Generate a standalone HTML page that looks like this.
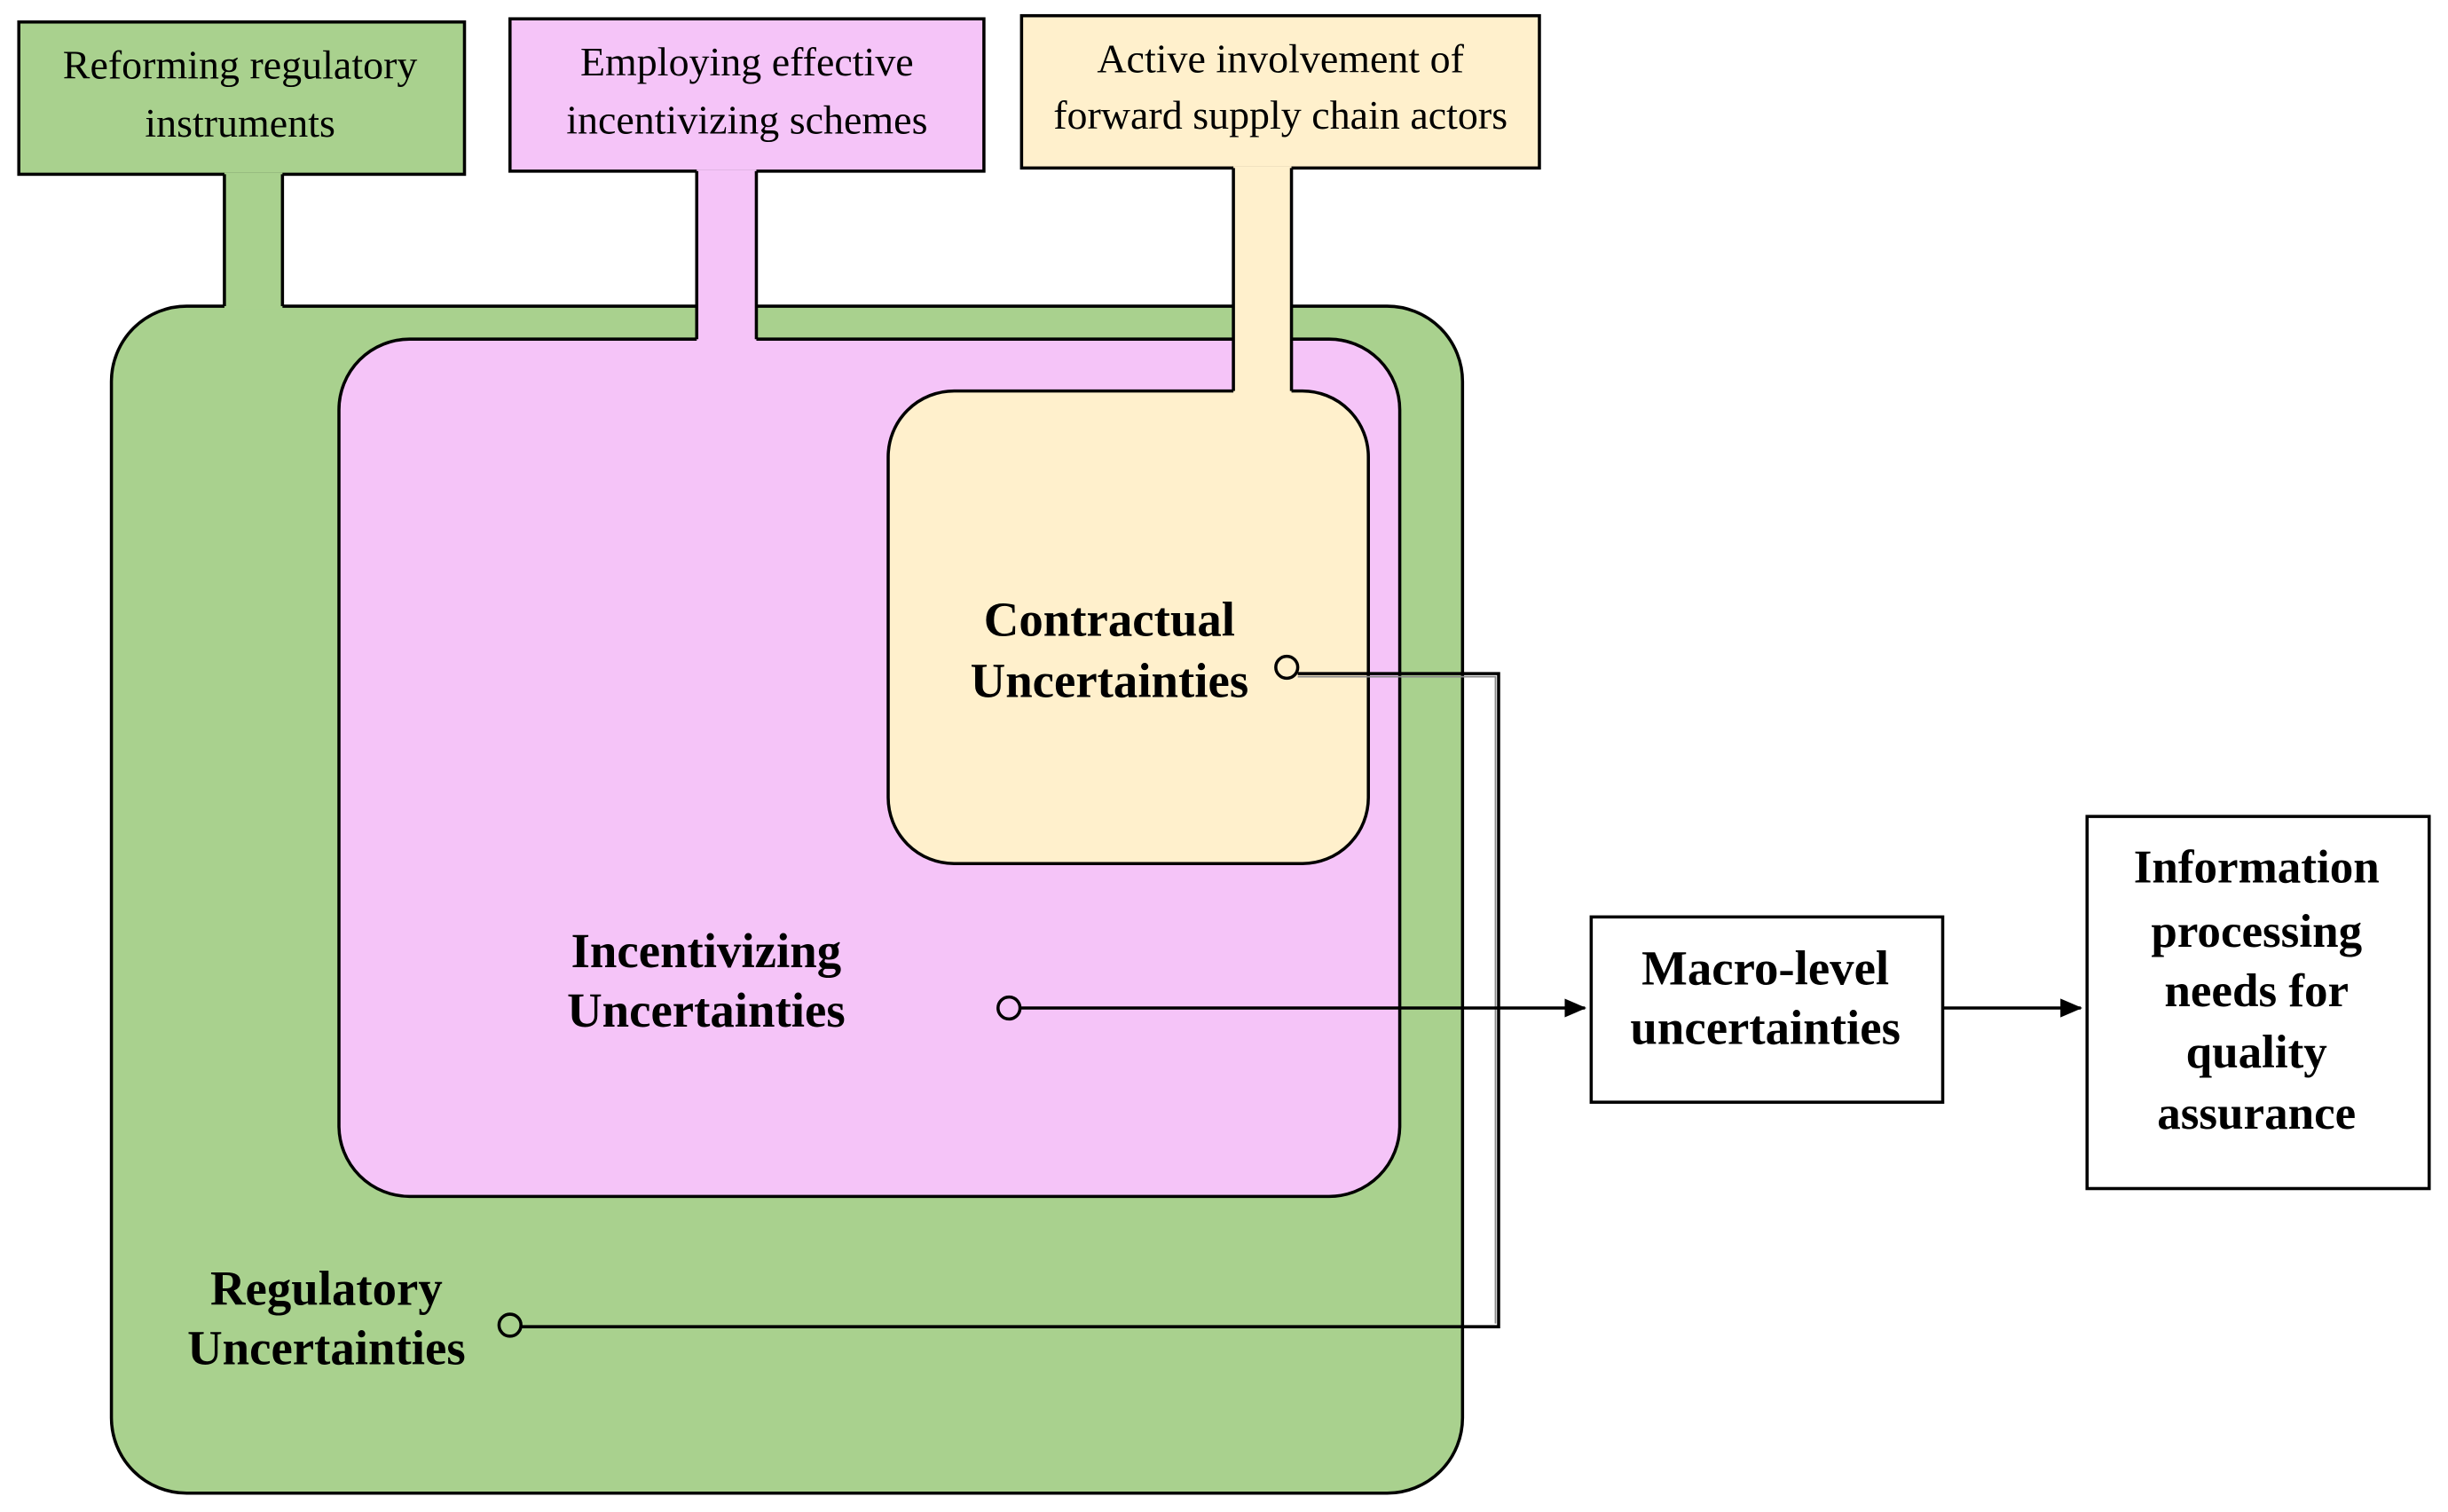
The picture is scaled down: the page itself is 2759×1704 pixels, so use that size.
<!DOCTYPE html>
<html><head><meta charset="utf-8"><style>html,body{margin:0;padding:0;background:#fff}svg{display:block}</style></head>
<body>
<svg width="2759" height="1704" viewBox="0 0 1560 963" preserveAspectRatio="none" xmlns="http://www.w3.org/2000/svg">
<defs><marker id="ar" markerWidth="14" markerHeight="12" refX="13" refY="6" orient="auto" markerUnits="userSpaceOnUse"><path d="M0,0 L14,6 L0,12 z" fill="#000"/></marker></defs>
<g font-family="Liberation Serif, serif" text-anchor="middle">
<rect x="12" y="14" width="284" height="97" fill="#a9d18e" stroke="#000" stroke-width="2"/>
<text x="153" y="50" font-size="26">Reforming regulatory</text>
<text x="153" y="87" font-size="26">instruments</text>
<rect x="325" y="12" width="302" height="97" fill="#f5c4f8" stroke="#000" stroke-width="2"/>
<text x="476" y="48" font-size="26">Employing effective</text>
<text x="476" y="85" font-size="26">incentivizing schemes</text>
<rect x="651" y="10" width="330" height="97" fill="#fff0cc" stroke="#000" stroke-width="2"/>
<text x="816" y="46" font-size="26">Active involvement of</text>
<text x="816" y="82" font-size="26">forward supply chain actors</text>
<rect x="71" y="195" width="861" height="756" rx="48" fill="#a9d18e" stroke="#000" stroke-width="2"/>
<rect x="216" y="216" width="676" height="546" rx="45" fill="#f5c4f8" stroke="#000" stroke-width="2"/>
<rect x="566" y="249" width="306" height="301" rx="42" fill="#fff0cc" stroke="#000" stroke-width="2"/>
<rect x="143" y="110" width="37" height="87" fill="#a9d18e"/>
<line x1="143" y1="111" x2="143" y2="195" stroke="#000" stroke-width="2"/>
<line x1="180" y1="111" x2="180" y2="195" stroke="#000" stroke-width="2"/>
<rect x="444" y="108" width="38" height="110" fill="#f5c4f8"/>
<line x1="444" y1="109" x2="444" y2="216" stroke="#000" stroke-width="2"/>
<line x1="482" y1="109" x2="482" y2="216" stroke="#000" stroke-width="2"/>
<rect x="786" y="106" width="37" height="145" fill="#fff0cc"/>
<line x1="786" y1="107" x2="786" y2="249" stroke="#000" stroke-width="2"/>
<line x1="823" y1="107" x2="823" y2="249" stroke="#000" stroke-width="2"/>
<g font-weight="bold" font-size="31">
<text x="707" y="405">Contractual</text>
<text x="707" y="444">Uncertainties</text>
<text x="450" y="616">Incentivizing</text>
<text x="450" y="654">Uncertainties</text>
<text x="208" y="831">Regulatory</text>
<text x="208" y="869">Uncertainties</text>
</g>
<path d="M827,429 H955 V845 H332" fill="none" stroke="#000" stroke-width="2"/>
<path d="M827,431 H953 V843" fill="none" stroke="#888" stroke-width="1"/>
<circle cx="820" cy="425" r="7" fill="none" stroke="#000" stroke-width="2"/>
<circle cx="325" cy="844" r="7" fill="none" stroke="#000" stroke-width="2"/>
<circle cx="643" cy="642" r="7" fill="none" stroke="#000" stroke-width="2"/>
<line x1="650" y1="642" x2="1010" y2="642" stroke="#000" stroke-width="2" marker-end="url(#ar)"/>
<rect x="1014" y="584" width="224" height="118" fill="#fff" stroke="#000" stroke-width="2"/>
<g font-weight="bold" font-size="31">
<text x="1125" y="627">Macro-level</text>
<text x="1125" y="665">uncertainties</text>
</g>
<line x1="1238" y1="642" x2="1326" y2="642" stroke="#000" stroke-width="2" marker-end="url(#ar)"/>
<rect x="1330" y="520" width="218" height="237" fill="#fff" stroke="#000" stroke-width="2"/>
<g font-weight="bold" font-size="30">
<text x="1438" y="562">Information</text>
<text x="1438" y="603">processing</text>
<text x="1438" y="641">needs for</text>
<text x="1438" y="680">quality</text>
<text x="1438" y="719">assurance</text>
</g>
</g>
</svg>
</body></html>
